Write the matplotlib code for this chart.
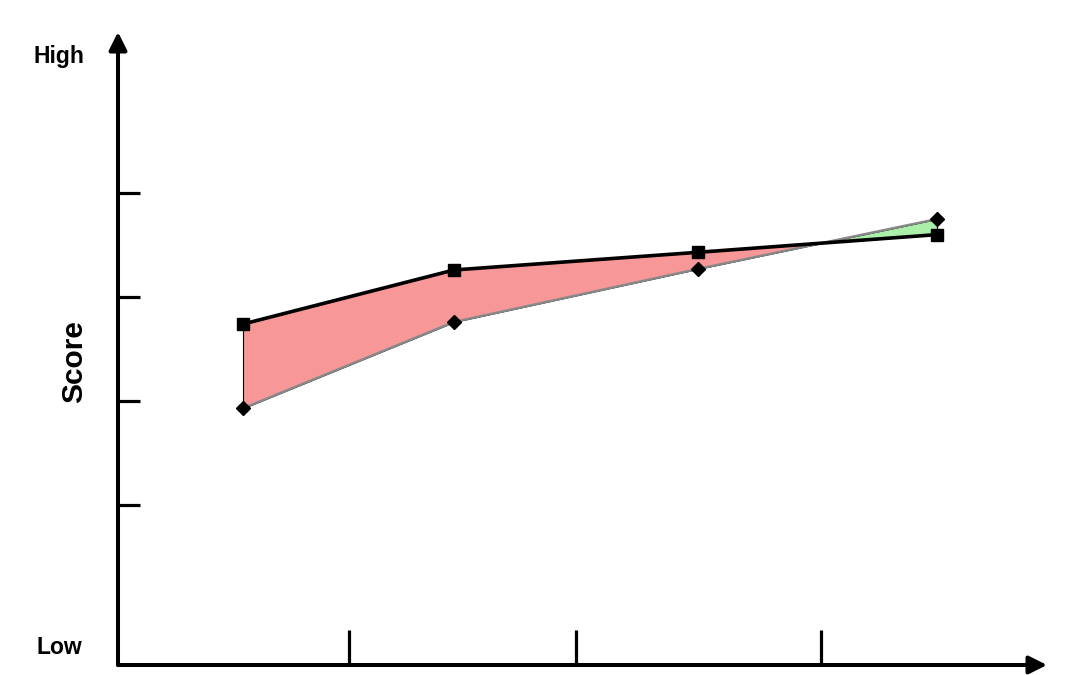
import matplotlib.pyplot as plt
import numpy as np

plt.rcParams['font.family'] = ['Liberation Sans', 'DejaVu Sans']

# data (x positions and scores)
x_pos = np.array([1.25, 3.36, 5.80, 8.19])
score_square = np.array([2.74, 3.26, 3.43, 3.60])
score_diamond = np.array([1.93, 2.76, 3.27, 3.75])
y_ticks = [1, 2, 3, 4]
y_low, y_high = -0.538, 5.548
x_max = 9.29

fig = plt.figure(figsize=(10.8, 6.75), dpi=100)
ax = fig.add_axes([118/1080, 10/675, 929/1080, 633/675])
ax.set_xlim(0, x_max)
ax.set_ylim(y_low, y_high)

for s in ax.spines.values():
    s.set_visible(False)

# axis arrows
ax.annotate('', xy=(1, 0), xytext=(0, 0), xycoords='axes fraction',
            arrowprops=dict(arrowstyle='-|>', lw=2.9, color='black',
                            mutation_scale=27, shrinkA=0, shrinkB=0))
ax.annotate('', xy=(0, 1), xytext=(0, 0), xycoords='axes fraction',
            arrowprops=dict(arrowstyle='-|>', lw=2.9, color='black',
                            mutation_scale=27, shrinkA=0, shrinkB=0))

# ticks: x ticks half way between the points
x_ticks = (x_pos[:-1] + x_pos[1:]) / 2
x_ticks[-1] += 0.03
ax.set_xticks(x_ticks)
ax.set_yticks(y_ticks)
ax.set_xticklabels([])
ax.set_yticklabels([])
ax.tick_params(axis='x', direction='in', length=25, width=2.3, color='black')
ax.tick_params(axis='y', direction='in', length=16, width=2.3, color='black')

# shaded difference
ax.fill_between(x_pos, score_square, score_diamond, where=score_square >= score_diamond,
                interpolate=True, facecolor='#f79797', edgecolor='black', lw=0.8, zorder=2)
ax.fill_between(x_pos, score_square, score_diamond, where=score_square < score_diamond,
                interpolate=True, facecolor='#aaf0aa', edgecolor='black', lw=0.8, zorder=2)

ax.plot(x_pos, score_diamond, color='#888888', lw=1.7, zorder=3)
ax.plot(x_pos, score_square, color='black', lw=2.6, zorder=4)
ax.plot(x_pos, score_diamond, ls='none', marker='D', ms=7.5, color='black', zorder=5)
ax.plot(x_pos, score_square, ls='none', marker='s', ms=8.5, color='black', zorder=5)

fig.text(59/1080, 1 - 57/675, 'High', ha='center', va='center', fontsize=16.5, fontweight='bold')
fig.text(59/1080, 1 - 648/675, 'Low', ha='center', va='center', fontsize=16.5, fontweight='bold')
fig.text(74/1080, 1 - 362/675, 'Score', ha='center', va='center', rotation=90,
         fontsize=21.5, fontweight='bold')

fig.savefig('out.png', dpi=100)
